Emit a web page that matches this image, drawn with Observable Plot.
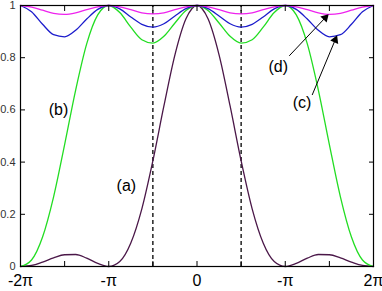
<!DOCTYPE html>
<html>
<head>
<meta charset="utf-8">
<script src="https://cdn.jsdelivr.net/npm/d3@7"></script>
<script src="https://cdn.jsdelivr.net/npm/@observablehq/plot@0.6"></script>
<style>
  html, body { margin: 0; padding: 0; background: #fff; }
  #chart svg { display: block; }
</style>
</head>
<body>
<div id="chart"></div>
<script>
// x positions in units of pi
const xPi = [-2, -1.875, -1.75, -1.625, -1.5, -1.375, -1.25, -1.125, -1,
  -0.875, -0.75, -0.625, -0.5, -0.375, -0.25, -0.125, 0,
  0.125, 0.25, 0.375, 0.5, 0.625, 0.75, 0.875, 1,
  1.125, 1.25, 1.375, 1.5, 1.625, 1.75, 1.875, 2];

// (a) dark purple
const curveA = [0, 0.004, 0.017, 0.033, 0.045, 0.046, 0.032, 0.012, 0,
  0.019, 0.090, 0.221, 0.405, 0.615, 0.811, 0.949, 1,
  0.949, 0.811, 0.615, 0.405, 0.221, 0.090, 0.019, 0,
  0.012, 0.032, 0.046, 0.045, 0.033, 0.017, 0.004, 0];

// (b) green
const curveB = [0, 0.025, 0.113, 0.267, 0.467, 0.676, 0.853, 0.964, 1,
  0.973, 0.917, 0.869, 0.856, 0.882, 0.933, 0.981, 1,
  0.981, 0.933, 0.882, 0.856, 0.869, 0.917, 0.973, 1,
  0.964, 0.853, 0.676, 0.467, 0.267, 0.113, 0.025, 0];

// (c) blue
const curveC = [1, 0.976, 0.928, 0.888, 0.880, 0.905, 0.948, 0.985, 1,
  0.987, 0.956, 0.928, 0.917, 0.930, 0.960, 0.988, 1,
  0.988, 0.960, 0.930, 0.917, 0.928, 0.956, 0.987, 1,
  0.985, 0.948, 0.905, 0.880, 0.888, 0.928, 0.976, 1];

// (d) magenta
const curveD = [1, 0.994, 0.982, 0.970, 0.966, 0.972, 0.984, 0.995, 1,
  0.995, 0.984, 0.972, 0.968, 0.972, 0.984, 0.995, 1,
  0.995, 0.984, 0.972, 0.968, 0.972, 0.984, 0.995, 1,
  0.995, 0.984, 0.972, 0.966, 0.970, 0.982, 0.994, 1];

// dashed reference lines (units of pi)
const dashedX = [-0.5, 0.5];

// ticks
const xTickVals = [-1.5, -1, -0.5, 0, 0.5, 1, 1.5];
const xLabelVals = [-2, -1, 0, 1, 2];
const xLabels = ["-2\u03c0", "-\u03c0", "0", "-\u03c0", "2\u03c0"];
const yTickVals = [0.2, 0.4, 0.6, 0.8];
const yLabelVals = [0, 0.2, 0.4, 0.6, 0.8, 1];
const yLabels = ["0", "0.2", "0.4", "0.6", "0.8", "1"];

// annotations
const labelText = ["(a)", "(b)", "(c)", "(d)"];
const labelX = [-0.80, -1.57, 1.19, 0.92];
const labelY = [0.307, 0.599, 0.626, 0.764];
const arrowX1 = [1.045, 1.305];
const arrowY1 = [0.807, 0.657];
const arrowX2 = [1.453, 1.566];
const arrowY2 = [0.953, 0.868];

const W = 382, H = 291, mL = 20, mR = 9, mT = 5, mB = 25;
const xs = d3.scaleLinear([-2, 2], [mL, W - mR]);
const ys = d3.scaleLinear([0, 1], [H - mB, mT]);

const rows = xPi.map((x, i) => ({x, a: curveA[i], b: curveB[i], c: curveC[i], d: curveD[i]}));
const labels = labelText.map((t, i) => ({t, x: labelX[i], y: labelY[i]}));
const arrows = arrowX1.map((_, i) => {
  const dx = xs(arrowX2[i]) - xs(arrowX1[i]);
  const dy = ys(arrowY2[i]) - ys(arrowY1[i]);
  return {x1: arrowX1[i], y1: arrowY1[i], x2: arrowX2[i], y2: arrowY2[i],
    angle: Math.atan2(dx, -dy) * 180 / Math.PI};
});

const font = "'Liberation Sans', Arial, sans-serif";

const chart = Plot.plot({
  width: W,
  height: H,
  marginLeft: mL,
  marginRight: mR,
  marginTop: mT,
  marginBottom: mB,
  style: {fontFamily: font, background: "#fff"},
  x: {domain: [-2, 2]},
  y: {domain: [0, 1]},
  marks: [
    Plot.ruleX(dashedX, {x: d => d, y1: 0, y2: 1, stroke: "#000", strokeWidth: 1.3, strokeDasharray: "4,3"}),
    Plot.line(rows, {x: "x", y: "a", stroke: "#4a1748", strokeWidth: 1.3, curve: "monotone-x"}),
    Plot.line(rows, {x: "x", y: "b", stroke: "#22dd22", strokeWidth: 1.3, curve: "monotone-x"}),
    Plot.line(rows, {x: "x", y: "c", stroke: "#1c1ccc", strokeWidth: 1.3, curve: "monotone-x"}),
    Plot.line(rows, {x: "x", y: "d", stroke: "#ee22ee", strokeWidth: 1.3, curve: "monotone-x"}),
    Plot.frame({stroke: "#000", strokeWidth: 1.2}),
    Plot.axisX({ticks: xTickVals, anchor: "bottom", tickSize: -5, tickFormat: () => "", stroke: "#000"}),
    Plot.axisX({ticks: xTickVals, anchor: "top", tickSize: -5, tickFormat: () => "", stroke: "#000"}),
    Plot.axisY({ticks: yTickVals, anchor: "left", tickSize: -5, tickFormat: () => "", stroke: "#000"}),
    Plot.axisY({ticks: yTickVals, anchor: "right", tickSize: -5, tickFormat: () => "", stroke: "#000"}),
    Plot.axisX({ticks: xLabelVals, anchor: "bottom", tickSize: 0, tickPadding: 8, fontSize: 16, fill: "#000",
      tickFormat: d => xLabels[xLabelVals.indexOf(d)]}),
    Plot.axisY({ticks: yLabelVals, anchor: "left", tickSize: 0, tickPadding: 5, fontSize: 11, fill: "#333",
      tickFormat: d => yLabels[yLabelVals.indexOf(d)]}),
    Plot.text(labels, {x: "x", y: "y", text: "t", fontSize: 16, fill: "#000"}),
    Plot.link(arrows, {x1: "x1", y1: "y1", x2: "x2", y2: "y2", stroke: "#000", strokeWidth: 1}),
    Plot.dot(arrows, {x: "x2", y: "y2", symbol: "triangle", r: 3.2, fill: "#000", stroke: "none", rotate: "angle"})
  ]
});
document.getElementById("chart").appendChild(chart);
</script>
</body>
</html>
